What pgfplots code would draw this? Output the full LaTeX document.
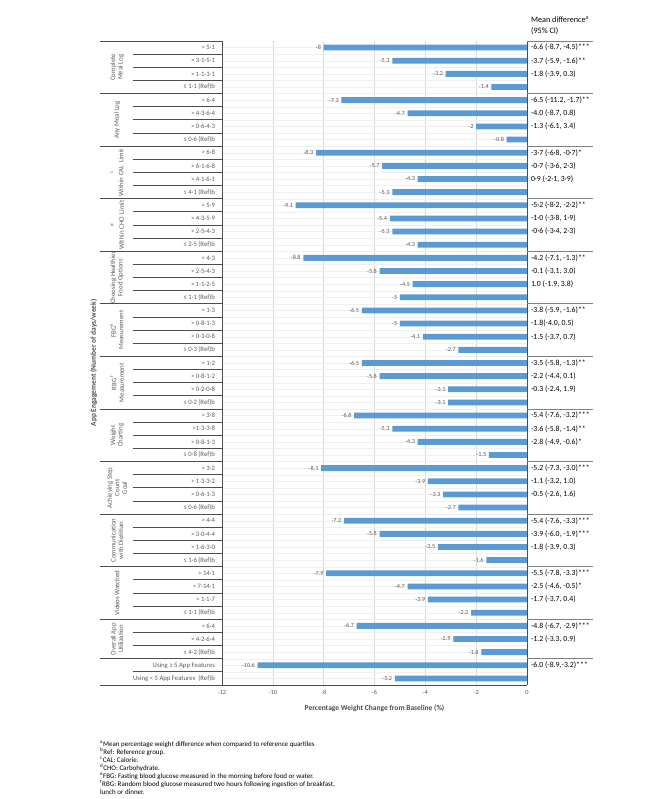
\documentclass[border=0pt]{standalone}
\usepackage{fontspec}
\setmainfont{Carlito}
\usepackage{pgfplots}
\pgfplotsset{compat=1.18}
\definecolor{barblue}{HTML}{5B9BD5}
\definecolor{lblgray}{HTML}{595959}
\definecolor{linegray}{HTML}{4D4D4D}
\definecolor{gridgray}{HTML}{D9D9D9}
\definecolor{faint}{HTML}{EFEFEF}
\newcommand{\rowfont}{\fontsize{6.7}{7.2}\selectfont}
\newcommand{\rfont}{\fontsize{7.8}{8.5}\selectfont}
\begin{document}
\begin{tikzpicture}
\path (0pt,0pt) rectangle (666pt,799pt);
\begin{axis}[
  at={(222pt,114pt)}, anchor=south west,
  scale only axis, width=305pt, height=644pt,
  xmin=-12, xmax=0, ymin=-0.5, ymax=48.5, y dir=reverse,
  axis line style={draw=none},
  clip=false,
  /pgf/number format/assume math mode=true,
  xtick={-12,-10,...,0},
  xtick style={draw=none},
  xticklabel style={font=\fontsize{6.4}{7}\selectfont, text=lblgray, yshift=-2pt},
  xmajorgrids, ymajorgrids, yminorgrids,
  major x grid style={draw=gridgray, line width=0.6pt},
  major y grid style={draw=faint, line width=0.4pt},
  minor y grid style={draw=faint, line width=0.4pt},
  ytick={0,...,48},
  minor ytick={0.5,1.5,...,47.5},
  ytick style={draw=none},
  minor tick length=0pt,
  yticklabel style={font=\rowfont, text=lblgray, xshift=-3.5pt},
  yticklabels={
    {> 5·1},{> 3·1-5·1},{> 1·1-3·1},{≤ 1·1 (Ref)b},
    {> 6·4},{> 4·3-6·4},{> 0·6-4·3},{≤ 0·6 (Ref)b},
    {> 6·8},{> 6·1-6·8},{> 4·1-6·1},{≤ 4·1 (Ref)b},
    {> 5·9},{> 4·3-5·9},{> 2·5-4·3},{≤ 2·5 (Ref)b},
    {> 4·3},{> 2·5-4·3},{> 1·1-2·5},{≤ 1·1 (Ref)b},
    {> 1·3},{> 0·8-1·3},{> 0·3-0·8},{≤ 0·3 (Ref)b},
    {> 1·2},{> 0·8-1·2},{> 0·2-0·8},{≤ 0·2 (Ref)b},
    {> 3·8},{>1·3-3·8},{> 0·8-1·3},{≤ 0·8 (Ref)b},
    {> 3·2},{> 1·3-3·2},{> 0·6-1·3},{≤ 0·6 (Ref)b},
    {> 4·4},{> 3·0-4·4},{> 1·6-3·0},{≤ 1·6 (Ref)b},
    {> 14·1},{> 7-14·1},{> 1·1-7},{≤ 1·1 (Ref)b},
    {> 6·4},{> 4·2-6·4},{≤ 4·2 (Ref)b},
    {Using ≥ 5 App Features},{Using < 5 App Features\ \ (Ref)b}},
  xlabel={\textbf{Percentage Weight Change from Baseline (\%)}},
  xlabel style={font=\fontsize{7.5}{8}\selectfont, text=linegray, yshift=-3pt},
]
\addplot[xbar, bar width=5.8pt, fill=barblue, draw=none, point meta=x,
  nodes near coords, nodes near coords align={horizontal},
  every node near coord/.append style={font=\fontsize{6.2}{6.5}\selectfont, text=lblgray, inner sep=2.5pt}]
coordinates {
(-8,0) (-5.3,1) (-3.2,2) (-1.4,3)
(-7.3,4) (-4.7,5) (-2,6) (-0.8,7)
(-8.3,8) (-5.7,9) (-4.3,10) (-5.3,11)
(-9.1,12) (-5.4,13) (-5.3,14) (-4.3,15)
(-8.8,16) (-5.8,17) (-4.5,18) (-5,19)
(-6.5,20) (-5,21) (-4.1,22) (-2.7,23)
(-6.5,24) (-5.8,25) (-3.1,26) (-3.1,27)
(-6.8,28) (-5.3,29) (-4.3,30) (-1.5,31)
(-8.1,32) (-3.9,33) (-3.3,34) (-2.7,35)
(-7.2,36) (-5.8,37) (-3.5,38) (-1.6,39)
(-7.9,40) (-4.7,41) (-3.9,42) (-2.2,43)
(-6.7,44) (-2.9,45) (-1.8,46)
(-10.6,47) (-5.2,48)
};
% table lines
\draw[linegray, line width=0.9pt] (axis cs:-12,-0.5) -- (axis cs:-12,48.5);
\draw[linegray, line width=0.9pt] (axis cs:0,-0.5) -- (axis cs:0,48.5);
\draw[linegray, line width=0.9pt] (axis cs:-16.8,48.5) -- (axis cs:0,48.5);
\pgfplotsinvokeforeach{-0.5,3.5,7.5,11.5,15.5,19.5,23.5,27.5,31.5,35.5,39.5,43.5,46.5}{
  \draw[linegray, line width=0.9pt] (axis cs:-16.8,#1) -- (axis cs:-12,#1);
  \draw[gray, line width=0.8pt] (axis cs:0,#1) -- (axis cs:2.6,#1);
}
\pgfplotsinvokeforeach{0.5,1.5,2.5,4.5,5.5,6.5,8.5,9.5,10.5,12.5,13.5,14.5,16.5,17.5,18.5,20.5,21.5,22.5,24.5,25.5,26.5,28.5,29.5,30.5,32.5,33.5,34.5,36.5,37.5,38.5,40.5,41.5,42.5,44.5,45.5,47.5}{
  \draw[linegray, line width=0.9pt] (axis cs:-15.5,#1) -- (axis cs:-12,#1);
}
% group labels
\tikzset{grp/.style={rotate=90, align=center, font=\fontsize{6.8}{7.4}\selectfont, text=lblgray, inner sep=0pt}}
\node[grp] at (axis cs:-16.13,1.5) {Complete\\Meal Log};
\node[grp] at (axis cs:-16.13,5.5) {Any Meal Log};
\node[grp] at (axis cs:-16.13,9.5) {\textsuperscript{c}\\Within CAL\ \ Limit};
\node[grp] at (axis cs:-16.13,13.5) {\textsuperscript{d}\\Within CHO\ \ Limit};
\node[grp] at (axis cs:-16.13,17.5) {Choosing Healthier\\Food Options};
\node[grp] at (axis cs:-16.13,21.5) {FBG\textsuperscript{e}\\Measurement};
\node[grp] at (axis cs:-16.13,25.5) {RBG \textsuperscript{f}\\Measurement};
\node[grp] at (axis cs:-16.13,29.5) {Weight\\Charting};
\node[grp] at (axis cs:-16.13,33.5) {Achieving Step\\Count\\Goal};
\node[grp] at (axis cs:-16.13,37.5) {Communication\\with Dietitian};
\node[grp] at (axis cs:-16.13,41.5) {Videos Watched};
\node[grp] at (axis cs:-16.13,45) {Overall App\\Utilization};
\node[rotate=90, font=\fontsize{7.4}{8}\selectfont\bfseries, text=linegray] at (axis cs:-17.05,24) {App Engagement (Number of days/week)};
% right column
\node[anchor=south west, align=left, font=\fontsize{8.2}{11}\selectfont, inner sep=0pt] at (axis cs:0.15,-0.95) {Mean difference\textsuperscript{a}\\(95\% CI)};
\tikzset{md/.style={anchor=west, font=\rfont, inner sep=0pt}}
\node[md] at (axis cs:0.15,0) {-6.6 (-8.7, -4.5)***};
\node[md] at (axis cs:0.15,1) {-3.7 (-5.9, -1.6)**};
\node[md] at (axis cs:0.15,2) {-1.8 (-3.9, 0.3)};
\node[md] at (axis cs:0.15,4) {-6.5 (-11.2, -1.7)**};
\node[md] at (axis cs:0.15,5) {-4.0 (-8.7, 0.8)};
\node[md] at (axis cs:0.15,6) {-1.3 (-6.1, 3.4)};
\node[md] at (axis cs:0.15,8) {-3·7 (-6·8, -0·7)*};
\node[md] at (axis cs:0.15,9) {-0·7 (-3·6, 2·3)};
\node[md] at (axis cs:0.15,10) {0·9 (-2·1, 3·9)};
\node[md] at (axis cs:0.15,12) {-5·2 (-8·2, -2·2)**};
\node[md] at (axis cs:0.15,13) {-1·0 (-3·8, 1·9)};
\node[md] at (axis cs:0.15,14) {-0·6 (-3·4, 2·3)};
\node[md] at (axis cs:0.15,16) {-4.2 (-7.1, -1.3)**};
\node[md] at (axis cs:0.15,17) {-0.1 (-3.1, 3.0)};
\node[md] at (axis cs:0.15,18) {1.0 (-1.9, 3.8)};
\node[md] at (axis cs:0.15,20) {-3.8 (-5.9, -1.6)**};
\node[md] at (axis cs:0.15,21) {-1.8(-4.0, 0.5)};
\node[md] at (axis cs:0.15,22) {-1.5 (-3.7, 0.7)};
\node[md] at (axis cs:0.15,24) {-3.5 (-5.8, -1.3)**};
\node[md] at (axis cs:0.15,25) {-2.2 (-4.4, 0.1)};
\node[md] at (axis cs:0.15,26) {-0.3 (-2.4, 1.9)};
\node[md] at (axis cs:0.15,28) {-5.4 (-7.6, -3.2)***};
\node[md] at (axis cs:0.15,29) {-3.6 (-5.8, -1.4)**};
\node[md] at (axis cs:0.15,30) {-2.8 (-4.9, -0.6)*};
\node[md] at (axis cs:0.15,32) {-5.2 (-7.3, -3.0)***};
\node[md] at (axis cs:0.15,33) {-1.1 (-3.2, 1.0)};
\node[md] at (axis cs:0.15,34) {-0.5 (-2.6, 1.6)};
\node[md] at (axis cs:0.15,36) {-5.4 (-7.6, -3.3)***};
\node[md] at (axis cs:0.15,37) {-3.9 (-6.0, -1.9)***};
\node[md] at (axis cs:0.15,38) {-1.8 (-3.9, 0.3)};
\node[md] at (axis cs:0.15,40) {-5.5 (-7.8, -3.3)***};
\node[md] at (axis cs:0.15,41) {-2.5 (-4.6, -0.5)*};
\node[md] at (axis cs:0.15,42) {-1.7 (-3.7, 0.4)};
\node[md] at (axis cs:0.15,44) {-4.8 (-6.7, -2.9)***};
\node[md] at (axis cs:0.15,45) {-1.2 (-3.3, 0.9)};
\node[md] at (axis cs:0.15,47) {-6.0 (-8.9,-3.2)***};
\end{axis}
\node[anchor=north west, align=left, font=\fontsize{7}{8}\selectfont, inner sep=0pt] at (100pt,58pt) {%
\textsuperscript{a}Mean percentage weight difference when compared to reference quartiles\\
\textsuperscript{b}Ref: Reference group.\\
\textsuperscript{c}CAL: Calorie.\\
\textsuperscript{d}CHO: Carbohydrate.\\
\textsuperscript{e}FBG: Fasting blood glucose measured in the morning before food or water.\\
\textsuperscript{f}RBG: Random blood glucose measured two hours following ingestion of breakfast,\\
lunch or dinner.};
\end{tikzpicture}
\end{document}
